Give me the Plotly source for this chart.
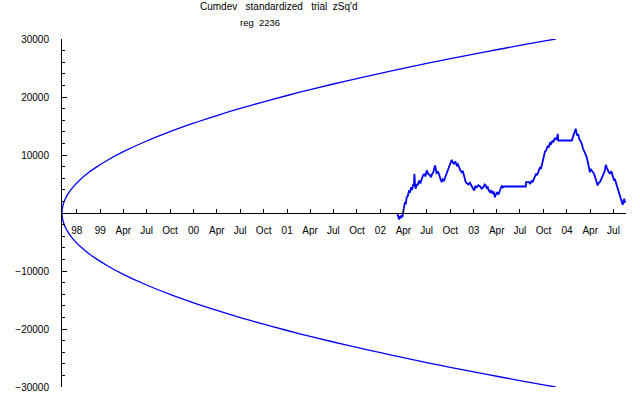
import plotly.graph_objects as go

# ---- envelope ----
env_dates = ["1998-08-04", "1998-08-05", "1998-08-06", "1998-08-11", "1998-08-18", "1998-08-25",
             "1998-09-15", "1998-10-15", "1998-11-15", "1998-12-15", "1999-02-01", "1999-04-01",
             "1999-07-01", "1999-10-01", "2000-01-01", "2000-04-01", "2000-07-01", "2000-10-01",
             "2001-01-01", "2001-04-01", "2001-07-01", "2001-10-01", "2002-01-01", "2002-04-01",
             "2002-07-01", "2002-10-01", "2003-01-01", "2003-04-01", "2003-07-01", "2003-10-01",
             "2003-11-18"]
env_values = [0, 683, 965, 1806, 2554, 3128,
              4423, 5791, 6927, 7871, 9182, 10574,
              12417, 14037, 15489, 16802, 18019, 19171,
              20258, 21268, 22242, 23186, 24092, 24947,
              25783, 26601, 27394, 28149, 28893, 29625,
              30000]

# ---- cumulative deviation ----
cum_dates = [
    "2002-03-08", "2002-03-11", "2002-03-15", "2002-03-19", "2002-03-22", "2002-03-25", "2002-03-28",
    "2002-04-01", "2002-04-04", "2002-04-07", "2002-04-10", "2002-04-14", "2002-04-18", "2002-04-23",
    "2002-04-27", "2002-05-01", "2002-05-05", "2002-05-10", "2002-05-12", "2002-05-14", "2002-05-16",
    "2002-05-19", "2002-05-23", "2002-05-27", "2002-05-30", "2002-06-02", "2002-06-06", "2002-06-12",
    "2002-06-16", "2002-06-22", "2002-06-26", "2002-07-01", "2002-07-04", "2002-07-07", "2002-07-12",
    "2002-07-18", "2002-07-22", "2002-07-27", "2002-07-30", "2002-08-03", "2002-08-06", "2002-08-09",
    "2002-08-13", "2002-08-18", "2002-08-23", "2002-08-29", "2002-09-02", "2002-09-07", "2002-09-12",
    "2002-09-17", "2002-09-23", "2002-09-30", "2002-10-03", "2002-10-07", "2002-10-11", "2002-10-16",
    "2002-10-21", "2002-10-27", "2002-10-31", "2002-11-05", "2002-11-10", "2002-11-15", "2002-11-19",
    "2002-11-24", "2002-11-27", "2002-12-01", "2002-12-06", "2002-12-11", "2002-12-17", "2002-12-24",
    "2002-12-29", "2003-01-03", "2003-01-08", "2003-01-13", "2003-01-19", "2003-01-26", "2003-02-01",
    "2003-02-08", "2003-02-13", "2003-02-17", "2003-02-21", "2003-02-25", "2003-03-01", "2003-03-06",
    "2003-03-11", "2003-03-16", "2003-03-20", "2003-03-25", "2003-03-29", "2003-04-03", "2003-04-08",
    "2003-04-14", "2003-04-17", "2003-04-21", "2003-04-25", "2003-04-30", "2003-07-24", "2003-07-25",
    "2003-08-06", "2003-08-10", "2003-08-16", "2003-08-20", "2003-08-25", "2003-08-29", "2003-09-02",
    "2003-09-06", "2003-09-11", "2003-09-15", "2003-09-18", "2003-09-21", "2003-09-24", "2003-09-27",
    "2003-10-01", "2003-10-04", "2003-10-07", "2003-10-12", "2003-10-18", "2003-10-22", "2003-10-27",
    "2003-10-31", "2003-11-05", "2003-11-09", "2003-11-13", "2003-11-18", "2003-11-22", "2003-11-26",
    "2003-11-28", "2004-01-20", "2004-01-23", "2004-01-26", "2004-01-30", "2004-02-04", "2004-02-07",
    "2004-02-10", "2004-02-14", "2004-02-18", "2004-02-23", "2004-02-28", "2004-03-03", "2004-03-08",
    "2004-03-12", "2004-03-16", "2004-03-20", "2004-03-25", "2004-03-28", "2004-03-31", "2004-04-03",
    "2004-04-07", "2004-04-12", "2004-04-16", "2004-04-20", "2004-04-24", "2004-04-27", "2004-04-30",
    "2004-05-04", "2004-05-09", "2004-05-13", "2004-05-18", "2004-05-22", "2004-05-26", "2004-05-29",
    "2004-06-01", "2004-06-05", "2004-06-09", "2004-06-13", "2004-06-18", "2004-06-21", "2004-06-24",
    "2004-06-28", "2004-07-03", "2004-07-06", "2004-07-10", "2004-07-14", "2004-07-18", "2004-07-20",
    "2004-07-23", "2004-07-27", "2004-07-31", "2004-08-03", "2004-08-06", "2004-08-09", "2004-08-12",
    "2004-08-15", "2004-08-17"]
cum_values = [
    0, -600, -1100, -500, -900, -400, -700,
    400, 1200, 1860, 1500, 2720, 2900, 3880,
    3500, 4450, 4000, 5030, 4600, 6760, 5200,
    4170, 5000, 4740, 5300, 5600, 5100, 5900,
    6400, 6760, 6300, 7330, 7000, 6760, 6600,
    6170, 6700, 7030, 7600, 8190, 7500, 6760,
    7200, 6760, 6000, 5310, 5800, 5600, 6200,
    6760, 7400, 8190, 8600, 9170, 8700, 8480,
    8900, 8190, 8400, 7620, 7300, 7030, 7300,
    6470, 6000, 5310, 5100, 4910, 5200, 4740,
    4300, 3880, 4600, 4450, 4800, 4570, 4200,
    4450, 4900, 4740, 4300, 4450, 3900, 3590,
    3900, 3310, 3700, 2720, 3200, 3590, 3200,
    3880, 4300, 4740, 4400, 4570, 4570, 5310,
    5310, 5000, 5600, 5300, 5900, 6300, 6760,
    6500, 7030, 7300, 7900, 7600, 8190, 8800,
    9620, 10000, 10600, 10800, 11640, 11300, 12210,
    11800, 12500, 12200, 12790, 12900, 12600, 13650,
    12500, 12500, 12900, 13360, 13800, 14520, 13900,
    13360, 13600, 12790, 12400, 11930, 11200, 10780,
    10400, 9910, 9300, 8480, 7800, 7030, 7600,
    7330, 7000, 6760, 6200, 5600, 5100, 4740,
    5200, 5310, 5700, 6170, 6500, 7030, 7500,
    8310, 7800, 7330, 7000, 6760, 7200, 7030,
    6500, 5600, 5900, 5310, 4900, 4450, 4000,
    3590, 2900, 2160, 1700, 1410, 2000, 2450,
    1800, 1980]

# ---- axis ticks ----
x_tick_dates = ["1998-10-01", "1999-01-01", "1999-04-01", "1999-07-01", "1999-10-01",
                "2000-01-01", "2000-04-01", "2000-07-01", "2000-10-01",
                "2001-01-01", "2001-04-01", "2001-07-01", "2001-10-01",
                "2002-01-01", "2002-04-01", "2002-07-01", "2002-10-01",
                "2003-01-01", "2003-04-01", "2003-07-01", "2003-10-01",
                "2004-01-01", "2004-04-01", "2004-07-01"]
x_tick_labels = ["98", "99", "Apr", "Jul", "Oct",
                 "00", "Apr", "Jul", "Oct",
                 "01", "Apr", "Jul", "Oct",
                 "02", "Apr", "Jul", "Oct",
                 "03", "Apr", "Jul", "Oct",
                 "04", "Apr", "Jul"]
y_tick_vals = [-30000, -20000, -10000, 10000, 20000, 30000]
y_tick_labels = ["\u221230000", "\u221220000", "\u221210000", "10000", "20000", "30000"]
y_minor_vals = list(range(-30000, 30001, 2000))

BLUE = "#0000ff"
FONT = "Liberation Sans, Arial, sans-serif"

fig = go.Figure()
fig.add_trace(go.Scatter(x=env_dates, y=env_values, mode="lines",
                         line=dict(color=BLUE, width=1.3, shape="spline"), hoverinfo="skip"))
fig.add_trace(go.Scatter(x=env_dates, y=[-v for v in env_values], mode="lines",
                         line=dict(color=BLUE, width=1.3, shape="spline"), hoverinfo="skip"))
fig.add_trace(go.Scatter(x=cum_dates, y=cum_values, mode="lines",
                         line=dict(color=BLUE, width=1.8)))

fig.update_layout(
    width=640, height=395,
    margin=dict(l=62, r=14, t=39, b=8, autoexpand=False),
    paper_bgcolor="white", plot_bgcolor="white",
    showlegend=False,
    font=dict(family=FONT, size=10, color="black"),
    xaxis=dict(
        type="date", range=["1998-08-04", "2004-08-19"],
        anchor="free", position=0.5, automargin=False,
        showgrid=False, zeroline=False,
        showline=True, linecolor="black", linewidth=1,
        tickmode="array", tickvals=x_tick_dates, ticktext=x_tick_labels,
        ticks="inside", ticklen=4, tickcolor="black", tickwidth=1,
        ticklabelstandoff=8,
        tickfont=dict(family=FONT, size=10, color="black"),
    ),
    yaxis=dict(
        range=[-30000, 30000], automargin=False,
        showgrid=False, zeroline=False,
        showline=True, linecolor="black", linewidth=1,
        tickmode="array", tickvals=y_tick_vals, ticktext=y_tick_labels,
        ticks="inside", ticklen=5, tickcolor="black", tickwidth=1,
        minor=dict(tickmode="array", tickvals=y_minor_vals, ticks="inside", ticklen=3,
                   tickcolor="black", tickwidth=1, showgrid=False),
        ticklabelstandoff=10,
        tickfont=dict(family=FONT, size=10, color="black"),
    ),
    annotations=[
        dict(text="Cumdev\u00a0\u00a0\u00a0standardized\u00a0\u00a0\u00a0trial\u00a0\u00a0zSq'd",
             xref="paper", yref="paper", x=0.3856, y=1.092, xanchor="center", yanchor="middle",
             showarrow=False, font=dict(family=FONT, size=10, color="black")),
        dict(text="reg\u00a0\u00a02236",
             xref="paper", yref="paper", x=0.351, y=1.046, xanchor="center", yanchor="middle",
             showarrow=False, font=dict(family=FONT, size=9.5, color="black")),
    ],
)

fig.write_html("out.html")
